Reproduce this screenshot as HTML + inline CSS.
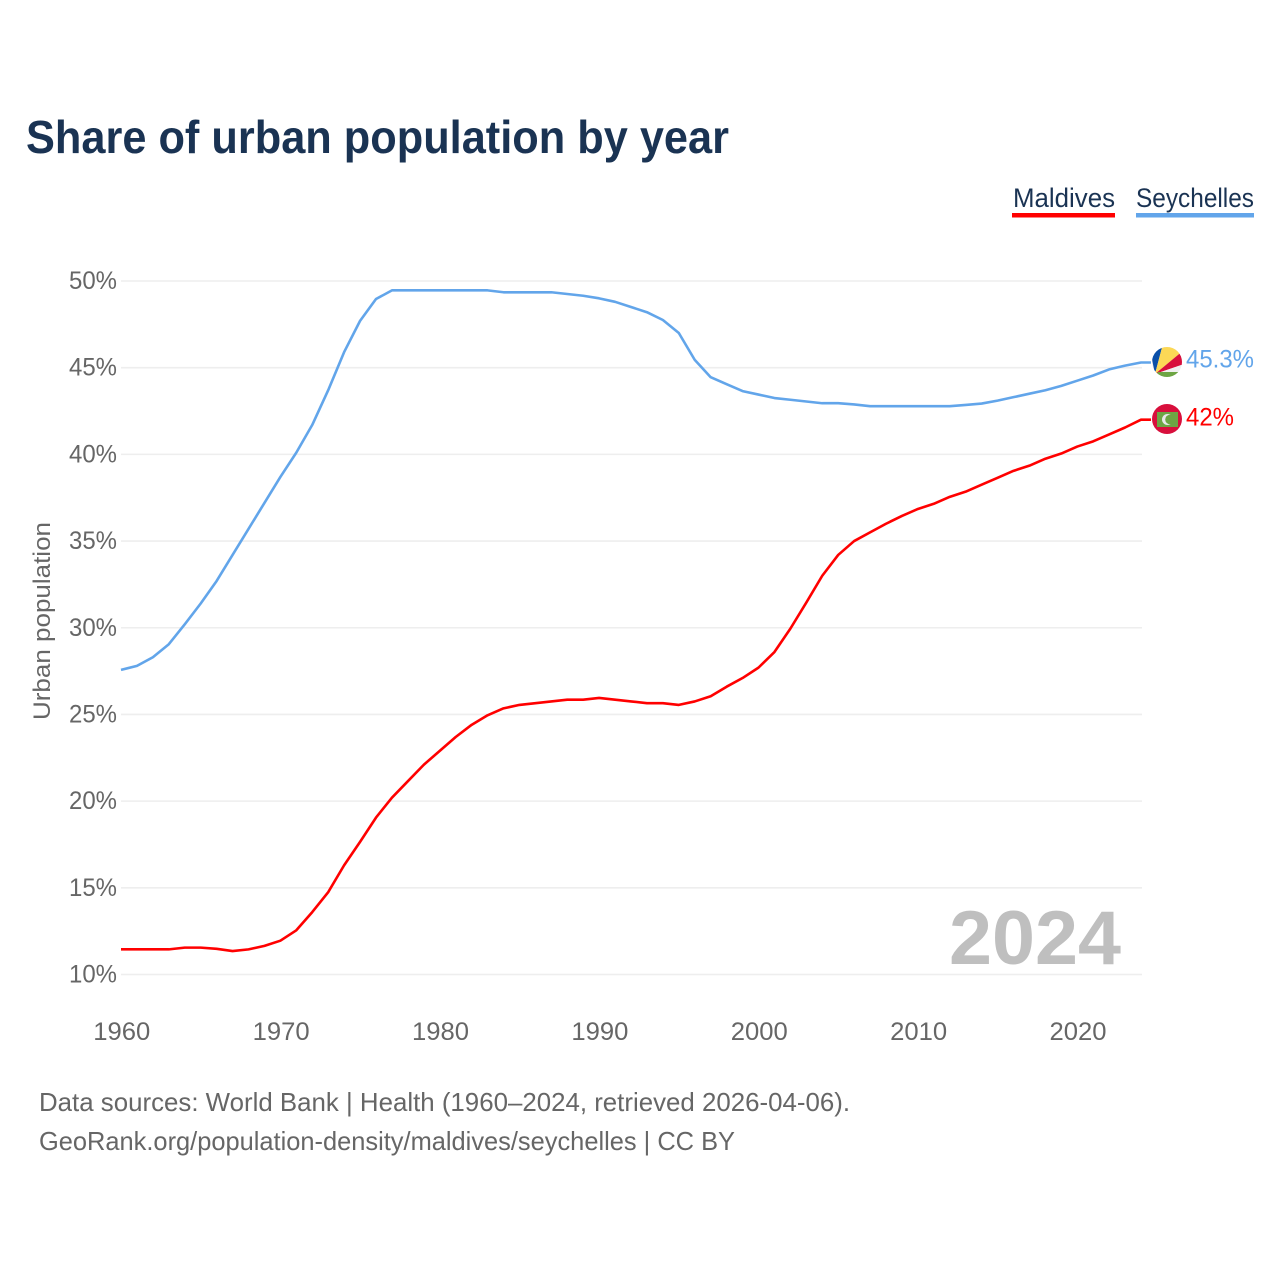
<!DOCTYPE html>
<html lang="en">
<head>
<meta charset="utf-8">
<title>Share of urban population by year</title>
<style>
html,body{margin:0;padding:0;background:#fff;}
svg{display:block;font-family:"Liberation Sans",sans-serif;}
</style>
</head>
<body>
<svg id="chart" width="1280" height="1280" viewBox="0 0 1280 1280" xmlns="http://www.w3.org/2000/svg">
  <defs>
    <clipPath id="clip-sc"><circle cx="1167" cy="362" r="15"/></clipPath>
  </defs>
  <rect width="1280" height="1280" fill="#fff"/>
  <text x="26" y="153" font-size="46" font-weight="700" fill="#1a3353" textLength="703" lengthAdjust="spacingAndGlyphs">Share of urban population by year</text>

  <g>
    <text x="1013" y="207" font-size="26.5" fill="#1a3353" textLength="102" lengthAdjust="spacingAndGlyphs">Maldives</text>
    <rect x="1012" y="213" width="103" height="4.5" fill="#ff0000"/>
  </g>
  <g>
    <text x="1136" y="207" font-size="26.5" fill="#1a3353" textLength="118" lengthAdjust="spacingAndGlyphs">Seychelles</text>
    <rect x="1136" y="213" width="118" height="4.5" fill="#62a5ea"/>
  </g>

  <g id="grid"></g>
  <g id="y-ticks"></g>
  <g id="x-ticks"></g>

  <text transform="translate(50,621) rotate(-90)" text-anchor="middle" font-size="24.5" fill="#666" textLength="198" lengthAdjust="spacingAndGlyphs">Urban population</text>

  <text x="949" y="964" font-size="76" font-weight="700" fill="#bfbfbf" textLength="172" lengthAdjust="spacingAndGlyphs">2024</text>

  <g id="series"></g>

  <g clip-path="url(#clip-sc)">
    <rect x="1150" y="345" width="34" height="34" fill="#f0f0f0"/>
    <polygon points="1155,374 1148,340 1164,340" fill="#0a4fa8"/>
    <polygon points="1155,374 1164,340 1184,340 1184,350" fill="#fcd856"/>
    <polygon points="1155,374 1184,350 1184,364" fill="#d80f3c"/>
    <polygon points="1155,374 1184,364 1184,372" fill="#f0f0f0"/>
    <polygon points="1158,372 1184,372 1184,382 1150,382" fill="#6da544"/>
  </g>
  <g>
    <circle cx="1167" cy="419" r="15" fill="#d80f3c"/>
    <rect x="1157" y="412" width="21" height="15" fill="#6da544"/>
    <circle cx="1167.5" cy="419.5" r="5.5" fill="#e8e8e8"/>
    <circle cx="1170" cy="419.5" r="4.8" fill="#6da544"/>
  </g>

  <text id="label-sc" x="1186" y="367.5" font-size="25" fill="#62a5ea" textLength="68" lengthAdjust="spacingAndGlyphs">45.3%</text>
  <text id="label-mv" x="1186" y="425.5" font-size="25" fill="#ff0000" textLength="48" lengthAdjust="spacingAndGlyphs">42%</text>

  <text x="39" y="1111" font-size="26" fill="#666" textLength="811" lengthAdjust="spacingAndGlyphs">Data sources: World Bank | Health (1960–2024, retrieved 2026-04-06).</text>
  <text x="39" y="1150" font-size="26" fill="#666" textLength="696" lengthAdjust="spacingAndGlyphs">GeoRank.org/population-density/maldives/seychelles | CC BY</text>
</svg>
<script>
var startYear = 1960;
var endYear = 2024;
var yTicks = [10, 15, 20, 25, 30, 35, 40, 45, 50];
var xTicks = [1960, 1970, 1980, 1990, 2000, 2010, 2020];
var seychellesValues = [
  27.57, 27.8, 28.3, 29.05, 30.2, 31.4, 32.7, 34.2, 35.7, 37.2,
  38.7, 40.1, 41.7, 43.7, 45.9, 47.7, 48.96, 49.46, 49.46, 49.46,
  49.46, 49.46, 49.46, 49.46, 49.35, 49.35, 49.35, 49.35, 49.25, 49.15,
  49.0, 48.8, 48.5, 48.2, 47.75, 47.0, 45.45, 44.45, 44.05, 43.65,
  43.45, 43.25, 43.15, 43.05, 42.95, 42.95, 42.88, 42.78, 42.78, 42.78,
  42.78, 42.78, 42.78, 42.85, 42.93, 43.1, 43.3, 43.5, 43.7, 43.95,
  44.25, 44.55, 44.9, 45.12, 45.3
];
var maldivesValues = [
  11.45, 11.45, 11.45, 11.45, 11.55, 11.55, 11.48, 11.35, 11.45, 11.65,
  11.95, 12.55, 13.6, 14.75, 16.3, 17.65, 19.05, 20.2, 21.15, 22.1,
  22.9, 23.7, 24.4, 24.95, 25.35, 25.55, 25.65, 25.75, 25.85, 25.85,
  25.95, 25.85, 25.75, 25.65, 25.65, 25.55, 25.75, 26.05, 26.6, 27.1,
  27.7, 28.6, 29.95, 31.45, 33.0, 34.2, 35.0, 35.5, 36.0, 36.45,
  36.85, 37.15, 37.55, 37.85, 38.25, 38.65, 39.05, 39.35, 39.75, 40.05,
  40.45, 40.75, 41.15, 41.55, 42.0
];

var NS = 'http://www.w3.org/2000/svg';
function xScale(year) { return 121 + (year - startYear) * (1141 - 121) / (endYear - startYear); }
function yScale(value) { return 974.5 - (value - 10) * (974.5 - 281) / 40; }

var grid = document.getElementById('grid');
var yGroup = document.getElementById('y-ticks');
var xGroup = document.getElementById('x-ticks');
var seriesGroup = document.getElementById('series');

yTicks.forEach(function (t) {
  var line = document.createElementNS(NS, 'line');
  
  
  line.setAttribute('x1', 121);
  line.setAttribute('x2', 1142);
  line.setAttribute('y1', yScale(t));
  line.setAttribute('y2', yScale(t));
  line.setAttribute('stroke', '#eeeeee');
  line.setAttribute('stroke-width', '1.6');
  grid.appendChild(line);

  var label = document.createElementNS(NS, 'text');
  
  
  label.setAttribute('x', 69);
  label.setAttribute('y', yScale(t) + 8);
  label.setAttribute('font-size', '25');
  label.setAttribute('fill', '#666');
  label.setAttribute('textLength', '48');
  label.setAttribute('lengthAdjust', 'spacingAndGlyphs');
  label.textContent = t + '%';
  yGroup.appendChild(label);
});

xTicks.forEach(function (t) {
  var label = document.createElementNS(NS, 'text');
  
  
  label.setAttribute('x', xScale(t) - 28.5 + 0.8);
  label.setAttribute('y', 1040);
  label.setAttribute('font-size', '25');
  label.setAttribute('fill', '#666');
  label.setAttribute('textLength', '57');
  label.setAttribute('lengthAdjust', 'spacingAndGlyphs');
  label.textContent = t;
  xGroup.appendChild(label);
});

function linePath(values) {
  var d = values.map(function (v, i) {
    return (i ? 'L' : 'M') + xScale(startYear + i).toFixed(2) + ' ' + yScale(v).toFixed(2);
  }).join(' ');
  var last = values[values.length - 1];
  return d + ' L' + (xScale(endYear) + 10).toFixed(2) + ' ' + yScale(last).toFixed(2);
}

var seyLine = document.createElementNS(NS, 'path');


seyLine.setAttribute('d', linePath(seychellesValues));
seyLine.setAttribute('fill', 'none');
seyLine.setAttribute('stroke', '#62a5ea');
seyLine.setAttribute('stroke-width', '2.6');
seyLine.setAttribute('stroke-linejoin', 'round');
seriesGroup.appendChild(seyLine);

var malLine = document.createElementNS(NS, 'path');


malLine.setAttribute('d', linePath(maldivesValues));
malLine.setAttribute('fill', 'none');
malLine.setAttribute('stroke', '#ff0000');
malLine.setAttribute('stroke-width', '2.6');
malLine.setAttribute('stroke-linejoin', 'round');
seriesGroup.appendChild(malLine);
</script>
</body>
</html>
